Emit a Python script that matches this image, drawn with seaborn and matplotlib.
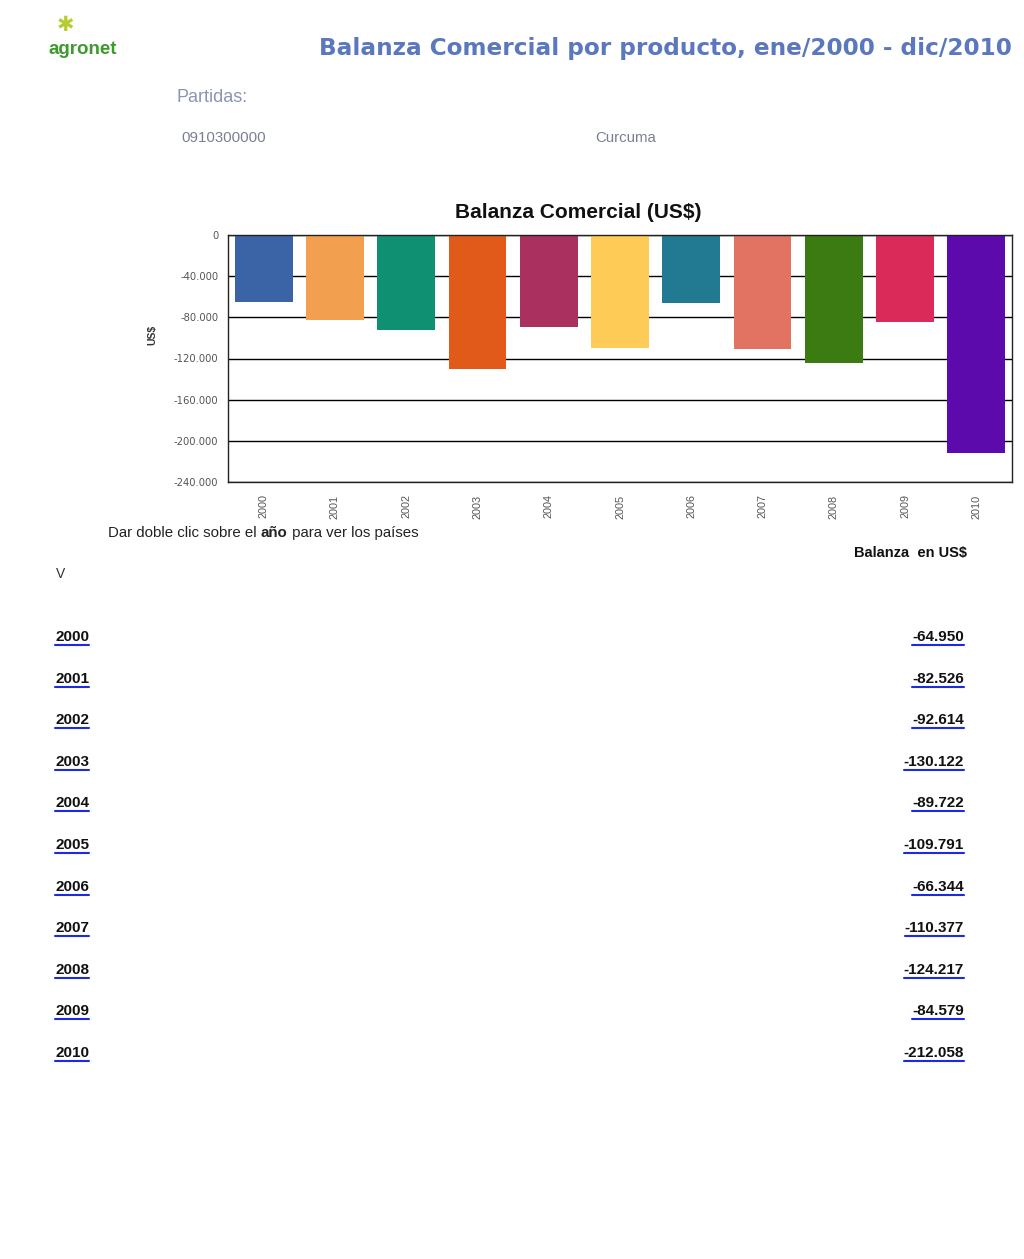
import matplotlib
matplotlib.use("Agg")
import matplotlib.pyplot as plt
import seaborn as sns
import pandas as pd
from matplotlib.lines import Line2D
from matplotlib.ticker import FuncFormatter

years = ["2000", "2001", "2002", "2003", "2004", "2005", "2006", "2007", "2008", "2009", "2010"]
balanza = [-64950, -82526, -92614, -130122, -89722, -109791, -66344, -110377, -124217, -84579, -212058]
bar_colors = ["#3A64A6", "#F2A050", "#109072", "#E25A1A", "#A9305F", "#FFCB57",
              "#217A92", "#E27262", "#3B7B12", "#D92A5A", "#5C0AAC"]
y_ticks = [0, -40000, -80000, -120000, -160000, -200000, -240000]

def fmt_thousands(v):
    s = f"{abs(int(v)):,}".replace(",", ".")
    return ("-" if v < 0 else "") + s

sns.set_theme(style="white")
plt.rcParams['font.family'] = ['Liberation Sans', 'DejaVu Sans']

W, H = 1024, 1259
fig = plt.figure(figsize=(W / 100, H / 100), dpi=100)
fig.patch.set_facecolor("white")

def fx(px):
    return px / W

def fy(py):
    return 1 - py / H

# Chart axes
ax = fig.add_axes([fx(228), fy(482), fx(1012) - fx(228), fy(235) - fy(482)])
df = pd.DataFrame({"year": years, "value": balanza})
sns.barplot(data=df, x="year", y="value", hue="year", palette=bar_colors,
            legend=False, width=0.81, ax=ax, saturation=1, linewidth=0)
ax.set_ylim(-240000, 0)
ax.set_yticks(y_ticks)
ax.yaxis.set_major_formatter(FuncFormatter(lambda v, p: fmt_thousands(v)))
ax.tick_params(axis="y", labelsize=7.2, colors="#555555", length=0, pad=7)
ax.tick_params(axis="x", labelsize=7.8, colors="#555555", length=0, pad=9)
for lbl in ax.get_yticklabels():
    lbl.set_family(["DejaVu Sans"])
for lbl in ax.get_xticklabels():
    lbl.set_rotation(90)
ax.set_xlabel("")
ax.set_ylabel("")
ax.set_axisbelow(True)
ax.grid(axis="y", color="black", linewidth=1)
for s in ax.spines.values():
    s.set_color("#222222")
    s.set_linewidth(1)
ax.set_xlim(-0.5, len(years) - 0.5)

fig.text(fx(578), fy(212), "Balanza Comercial (US$)", ha="center", va="center",
         fontsize=15, fontweight="bold", color="#111111")
fig.text(fx(152), fy(335), "US$", ha="center", va="center", rotation=90,
         fontsize=7.5, fontweight="bold", color="#333333")

# Header
fig.text(fx(1012), fy(48), "Balanza Comercial por producto, ene/2000 - dic/2010",
         ha="right", va="center", fontsize=16.7, fontweight="bold", color="#5B78BE",
         family=["DejaVu Sans"])
fig.text(fx(83), fy(49), "agronet", ha="center", va="center", fontsize=13.5,
         fontweight="bold", color="#3E9A2E")
fig.text(fx(65), fy(25), "✱", ha="center", va="center", fontsize=15,
         color="#B8CC30", family=["DejaVu Sans"])
fig.text(fx(177), fy(97), "Partidas:", ha="left", va="center", fontsize=13,
         color="#8A95B5")
fig.text(fx(181), fy(138), "0910300000", ha="left", va="center", fontsize=10.8,
         color="#7A7F92")
fig.text(fx(595), fy(138), "Curcuma", ha="left", va="center", fontsize=10.8,
         color="#7A7F92")

# Instruction line with bold word
renderer = fig.canvas.get_renderer()
parts = [("Dar doble clic sobre el ", "normal"), ("año", "bold"), (" para ver los países", "normal")]
xcur = 108
for txt, wt in parts:
    t = fig.text(fx(xcur), fy(533), txt, ha="left", va="center", fontsize=10.8,
                 fontweight=wt, color="#222222")
    bb = t.get_window_extent(renderer=renderer)
    xcur += bb.width

fig.text(fx(967), fy(553), "Balanza  en US$", ha="right", va="center", fontsize=10.5,
         fontweight="bold", color="#111111")
fig.text(fx(61), fy(574), "V", ha="center", va="center", fontsize=10,
         color="#333333")

# Table rows
row_y0, row_step = 637, 41.6
for i, (yr, v) in enumerate(zip(years, balanza)):
    yy = row_y0 + i * row_step
    t1 = fig.text(fx(55), fy(yy), yr, ha="left", va="center", fontsize=11,
                  fontweight="bold", color="#111111")
    t2 = fig.text(fx(964), fy(yy), fmt_thousands(v), ha="right", va="center",
                  fontsize=11, fontweight="bold", color="#111111")
    for t in (t1, t2):
        bb = t.get_window_extent(renderer=renderer)
        uy = fy(yy + 8)
        fig.add_artist(Line2D([bb.x0 / W, bb.x1 / W], [uy, uy], color="#1A2BE0",
                              linewidth=1.5, transform=fig.transFigure))

fig.savefig("out.png", dpi=100, facecolor="white")
